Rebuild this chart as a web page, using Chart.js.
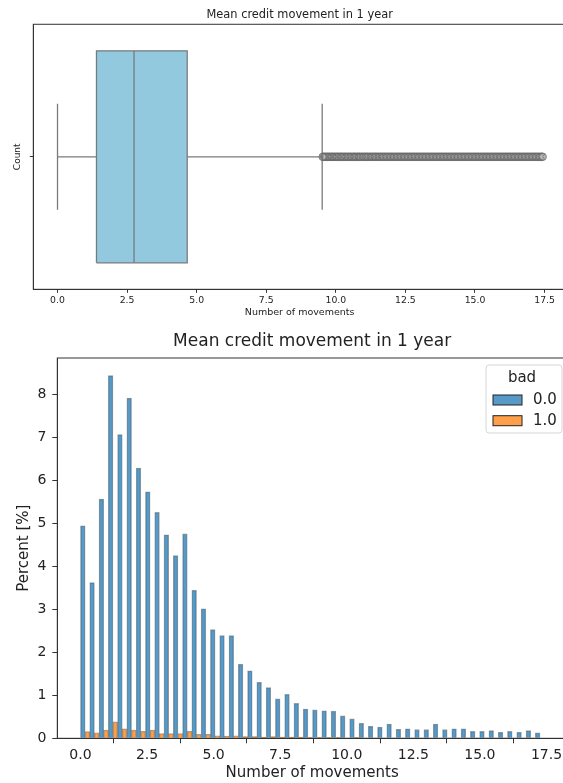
<!DOCTYPE html>
<html>
<head>
<meta charset="utf-8">
<script src="https://cdn.jsdelivr.net/npm/chart.js@4.4.1/dist/chart.umd.min.js"></script>
<style>
  html, body { margin: 0; padding: 0; background: #fff; width: 563px; height: 783px; overflow: hidden; }
  #wrap1 { position: absolute; left: 0; top: 0; width: 575px; height: 320px; }
  #wrap2 { position: absolute; left: 0; top: 320px; width: 575px; height: 463px; }
</style>
</head>
<body>
<div id="wrap1"><canvas id="boxChart" width="575" height="320"></canvas></div>
<div id="wrap2"><canvas id="histChart" width="575" height="463"></canvas></div>
<script>
// valores
const chartTitle = 'Mean credit movement in 1 year';
const xTicks = [0, 2.5, 5, 7.5, 10, 12.5, 15, 17.5];
const yTicks = [0, 1, 2, 3, 4, 5, 6, 7, 8];
const hueLabels = ['0.0', '1.0'];

// boxplot: bigote inf, Q1, mediana, Q3, bigote sup
const boxValues = [0, 1.40, 2.75, 4.66, 9.51];
const outliers = [
  9.53, 9.57, 9.61, 9.66, 9.70, 9.75, 9.79, 9.84, 9.88, 9.93, 9.97,
  10.02, 10.06, 10.11, 10.16, 10.20, 10.25, 10.30, 10.34, 10.39, 10.44, 10.48,
  10.53, 10.58, 10.63, 10.67, 10.72, 10.77, 10.82, 10.86, 10.91, 10.96,
  11.01, 11.06, 11.10, 11.15, 11.20, 11.25, 11.30, 11.35, 11.40, 11.44, 11.49,
  11.54, 11.59, 11.64, 11.69, 11.74, 11.79, 11.84, 11.89, 11.94, 11.99,
  12.04, 12.09, 12.14, 12.19, 12.24, 12.29, 12.34, 12.39, 12.44, 12.49,
  12.54, 12.59, 12.64, 12.69, 12.74, 12.79, 12.84, 12.89, 12.94, 12.99,
  13.04, 13.09, 13.14, 13.19, 13.24, 13.29, 13.34, 13.39, 13.44, 13.49,
  13.54, 13.59, 13.64, 13.69, 13.74, 13.79, 13.84, 13.89, 13.94, 13.99,
  14.04, 14.09, 14.14, 14.19, 14.24, 14.29, 14.34, 14.39, 14.44, 14.49,
  14.54, 14.59, 14.64, 14.69, 14.74, 14.79, 14.84, 14.89, 14.94, 14.99,
  15.04, 15.09, 15.14, 15.19, 15.24, 15.29, 15.34, 15.39, 15.44, 15.49,
  15.54, 15.59, 15.64, 15.69, 15.74, 15.79, 15.84, 15.89, 15.94, 15.99,
  16.04, 16.09, 16.14, 16.19, 16.24, 16.29, 16.34, 16.39, 16.44, 16.49,
  16.54, 16.59, 16.64, 16.69, 16.74, 16.79, 16.84, 16.89, 16.94, 16.99,
  17.04, 17.09, 17.14, 17.19, 17.24, 17.29, 17.34, 17.39, 17.43
];

// histograma (50 bins), porcentaje por clase
const binWidth = 0.3486;
const goodPercent = [
  4.94, 3.62, 5.56, 8.43, 7.06, 7.91, 6.28, 5.73, 5.25, 4.73,
  4.25, 4.75, 3.44, 3.01, 2.53, 2.39, 2.39, 1.72, 1.57, 1.30,
  1.18, 0.92, 1.02, 0.81, 0.68, 0.66, 0.64, 0.63, 0.52, 0.45,
  0.35, 0.28, 0.26, 0.33, 0.21, 0.22, 0.20, 0.20, 0.33, 0.20,
  0.22, 0.22, 0.16, 0.16, 0.18, 0.14, 0.16, 0.14, 0.18, 0.13
];
const badPercent = [
  0.155, 0.13, 0.19, 0.38, 0.22, 0.19, 0.16, 0.19, 0.11, 0.11,
  0.11, 0.16, 0.09, 0.09, 0.06, 0.05, 0.06, 0.04, 0.04, 0.03,
  0.04, 0.03, 0.03, 0.03, 0.02, 0.02, 0.02, 0.02, 0.01, 0.02,
  0.01, 0.01, 0.01, 0.01, 0.01, 0.01, 0.01, 0.01, 0.01, 0.005,
  0.01, 0.005, 0.005, 0.005, 0.005, 0.005, 0.005, 0.005, 0.005, 0
];

const FONT = 'DejaVu Sans';
const TEXT = '#222';
const AXIS = '#333';
const boxFill = '#93c9de';
const boxLine = '#767b7e';

const framePlugin = {
  id: 'frame',
  afterDraw(chart) {
    const { ctx, chartArea: a } = chart;
    ctx.save();
    ctx.strokeStyle = AXIS;
    ctx.lineWidth = 1;
    ctx.strokeRect(a.left, a.top, a.right - a.left, a.bottom - a.top);
    ctx.restore();
  }
};

const fixedTicks = (vals) => (scale) => {
  scale.ticks = vals.map(v => ({ value: v }));
};

// ---------- boxplot ----------
const [wLo, q1, med, q3, wHi] = boxValues;
const line = (pts, extra) => Object.assign({
  type: 'scatter', data: pts, showLine: true, borderColor: boxLine,
  borderWidth: 1.3, pointRadius: 0, fill: false, order: 1
}, extra || {});

new Chart(document.getElementById('boxChart'), {
  type: 'scatter',
  data: {
    datasets: [
      line([{ x: q1, y: 0.4 }, { x: q3, y: 0.4 }], { borderWidth: 0, fill: { value: -0.4 }, backgroundColor: boxFill, order: 10 }),
      line([{ x: q1, y: -0.4 }, { x: q3, y: -0.4 }, { x: q3, y: 0.4 }, { x: q1, y: 0.4 }, { x: q1, y: -0.4 }]),
      line([{ x: med, y: -0.4 }, { x: med, y: 0.4 }]),
      line([{ x: wLo, y: 0 }, { x: q1, y: 0 }]),
      line([{ x: q3, y: 0 }, { x: wHi, y: 0 }]),
      line([{ x: wLo, y: -0.2 }, { x: wLo, y: 0.2 }]),
      line([{ x: wHi, y: -0.2 }, { x: wHi, y: 0.2 }]),
      {
        type: 'scatter',
        data: outliers.map(v => ({ x: v, y: 0 })),
        pointRadius: 3.8,
        pointBorderWidth: 1,
        borderColor: 'rgba(105,105,105,0.85)',
        backgroundColor: 'rgba(0,0,0,0)',
        order: 0
      }
    ]
  },
  options: {
    responsive: false,
    animation: false,
    layout: { padding: { left: 0, right: 9, top: 0, bottom: 0 } },
    plugins: {
      legend: { display: false },
      tooltip: { enabled: false },
      title: {
        display: true, text: chartTitle, fullSize: false, color: TEXT,
        font: { family: FONT, size: 11.4, weight: 'normal' },
        padding: { top: 8, bottom: 2.6 }
      }
    },
    scales: {
      x: {
        type: 'linear', min: -0.87, max: 18.27,
        afterBuildTicks: fixedTicks(xTicks),
        afterFit: (s) => { s.height = 30.7; },
        grid: { drawOnChartArea: false, drawTicks: true, tickLength: 3.5, color: AXIS },
        border: { color: AXIS },
        ticks: { color: TEXT, font: { family: FONT, size: 9.3 }, padding: 2, maxRotation: 0,
          callback: (v) => Number(v).toFixed(1) },
        title: { display: true, text: 'Number of movements', color: TEXT,
          font: { family: FONT, size: 9.5 }, padding: { top: 0, bottom: 1.3 } }
      },
      y: {
        type: 'linear', min: -0.5, max: 0.5,
        afterBuildTicks: fixedTicks([0]),
        afterFit: (s) => { s.width = 33.3; },
        grid: { drawOnChartArea: false, drawTicks: true, tickLength: 3.5, color: AXIS },
        border: { color: AXIS },
        ticks: { callback: () => '' },
        title: { display: true, text: 'Count', color: TEXT,
          font: { family: FONT, size: 9 }, padding: { top: 11.9, bottom: 0 } }
      }
    }
  },
  plugins: [framePlugin]
});

// ---------- histograma ----------
const legendPlugin = {
  id: 'boxLegend',
  afterDraw(chart) {
    const { ctx, chartArea: a } = chart;
    const bx = a.right - 81, by = a.top + 7, bw = 76, bh = 68;
    ctx.save();
    ctx.fillStyle = 'rgba(255,255,255,0.8)';
    ctx.strokeStyle = '#d6d6d6';
    ctx.lineWidth = 1;
    ctx.beginPath();
    ctx.roundRect(bx, by, bw, bh, 3);
    ctx.fill();
    ctx.stroke();
    ctx.fillStyle = TEXT;
    ctx.font = '15px "' + FONT + '"';
    ctx.textAlign = 'center';
    ctx.textBaseline = 'middle';
    ctx.fillText('bad', bx + 36, by + 13);
    chart.data.datasets.forEach((ds, i) => {
      const y = by + 35 + i * 20.7;
      ctx.fillStyle = ds.backgroundColor;
      ctx.fillRect(bx + 7, y - 5, 29, 10);
      ctx.strokeStyle = '#222';
      ctx.strokeRect(bx + 7, y - 5, 29, 10);
      ctx.fillStyle = TEXT;
      ctx.textAlign = 'left';
      ctx.fillText(ds.label, bx + 47, y);
    });
    ctx.restore();
  }
};

const binCenters = goodPercent.map((_, i) => (i + 0.5) * binWidth);
const histBars = (vals, label, color) => ({
  label: label,
  data: vals.map((v, i) => ({ x: binCenters[i], y: v })),
  backgroundColor: color,
  borderColor: 'rgba(40,40,40,0.45)',
  borderWidth: 0.8,
  barPercentage: 1,
  categoryPercentage: 1
});

new Chart(document.getElementById('histChart'), {
  type: 'bar',
  data: {
    datasets: [
      histBars(goodPercent, hueLabels[0], 'rgba(31,119,180,0.75)'),
      histBars(badPercent, hueLabels[1], 'rgba(255,127,14,0.75)')
    ]
  },
  options: {
    responsive: false,
    animation: false,
    layout: { padding: { left: 0, right: 8, top: 0, bottom: 0 } },
    plugins: {
      legend: { display: false },
      tooltip: { enabled: false },
      title: {
        display: true, text: chartTitle, fullSize: false, color: TEXT,
        font: { family: FONT, size: 17, weight: 'normal' },
        padding: { top: 11.8, bottom: 5.8 }
      }
    },
    scales: {
      x: {
        type: 'linear', min: -0.87, max: 18.27, offset: false,
        afterBuildTicks: fixedTicks(xTicks),
        afterFit: (s) => { s.height = 44.7; },
        grid: { drawOnChartArea: false, drawTicks: true, tickLength: 5, color: AXIS },
        border: { color: AXIS },
        ticks: { color: TEXT, font: { family: FONT, size: 14 }, padding: 4, maxRotation: 0,
          callback: (v) => Number(v).toFixed(1) },
        title: { display: true, text: 'Number of movements', color: TEXT,
          font: { family: FONT, size: 15 }, padding: { top: 0, bottom: 1 } }
      },
      y: {
        type: 'linear', min: 0, max: 8.84,
        afterBuildTicks: fixedTicks(yTicks),
        afterFit: (s) => { s.width = 57.3; },
        grid: { drawOnChartArea: false, drawTicks: true, tickLength: 5, color: AXIS },
        border: { color: AXIS },
        ticks: { color: TEXT, font: { family: FONT, size: 14 }, padding: 6 },
        title: { display: true, text: 'Percent [%]', color: TEXT,
          font: { family: FONT, size: 15 }, padding: { top: 15.3, bottom: 0 } }
      }
    }
  },
  plugins: [framePlugin, legendPlugin]
});
</script>
</body>
</html>
